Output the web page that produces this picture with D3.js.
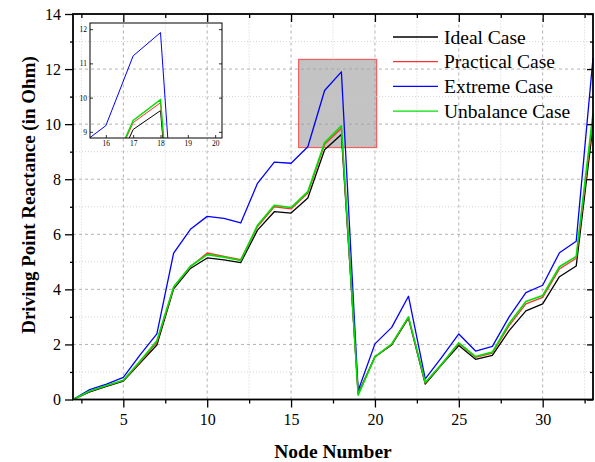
<!DOCTYPE html>
<html>
<head>
<meta charset="utf-8">
<script src="https://cdn.jsdelivr.net/npm/d3@7"></script>
<style>
  body { margin: 0; background: #fff; }
  svg text { font-family: "Liberation Serif", "Times New Roman", serif; fill: #000; }
</style>
</head>
<body>
<div id="chart"></div>
<script>
// node numbers along the feeder
const nodes = [2, 3, 4, 5, 6, 7, 8, 9, 10, 11, 12, 13, 14, 15, 16, 17, 18, 19, 20, 21, 22, 23, 24, 25, 26, 27, 28, 29, 30, 31, 32, 33];

const idealCase = [0, 0.28, 0.48, 0.67, 1.32, 1.98, 4.02, 4.76, 5.14, 5.07, 4.97, 6.15, 6.82, 6.77, 7.32, 9.07, 9.62,
  0.22, 1.55, 1.98, 2.95, 0.56, 1.28, 1.96, 1.46, 1.60, 2.50, 3.22, 3.47, 4.46, 4.85, 9.95];
const practicalCase = [0, 0.30, 0.50, 0.69, 1.36, 2.08, 4.07, 4.82, 5.32, 5.20, 5.08, 6.28, 7.00, 6.92, 7.50, 9.27, 9.85,
  0.20, 1.55, 2.00, 2.98, 0.60, 1.30, 2.03, 1.53, 1.68, 2.68, 3.47, 3.71, 4.74, 5.13, 10.2];
const extremeCase = [0, 0.36, 0.56, 0.80, 1.62, 2.38, 5.32, 6.18, 6.65, 6.58, 6.41, 7.85, 8.62, 8.58, 9.18, 11.22, 11.90,
  0.32, 2.02, 2.62, 3.75, 0.75, 1.55, 2.38, 1.76, 1.93, 3.00, 3.88, 4.15, 5.33, 5.75, 12.4];
const unbalanceCase = [0, 0.31, 0.51, 0.70, 1.40, 2.13, 4.09, 4.84, 5.26, 5.17, 5.05, 6.33, 7.05, 6.97, 7.55, 9.33, 9.94,
  0.16, 1.55, 2.02, 3.00, 0.62, 1.30, 2.06, 1.56, 1.72, 2.76, 3.56, 3.78, 4.82, 5.20, 10.4];

const seriesNames = ["Ideal Case", "Practical Case", "Extreme Case", "Unbalance Case"];
const seriesColors = ["#000000", "#ff3030", "#0000ff", "#00e000"];
const seriesValues = [idealCase, practicalCase, extremeCase, unbalanceCase];

const xMajorTicks = [5, 10, 15, 20, 25, 30];
const xMinorTicks = [2.5, 7.5, 12.5, 17.5, 22.5, 27.5, 32.5];
const yMajorTicks = [0, 2, 4, 6, 8, 10, 12, 14];
const yMinorTicks = [1, 3, 5, 7, 9, 11, 13];

// zoomed region shown by the grey box and the inset
const zoomX = [15.45, 20.1];
const zoomY = [9.15, 12.35];
const insetXTicks = [16, 17, 18, 19, 20];
const insetYTicks = [9, 10, 11, 12];

const width = 595, height = 462;
const margin = {left: 73, right: 2, top: 14, bottom: 62.5};

const svg = d3.select("#chart").append("svg")
  .attr("width", width)
  .attr("height", height);

const x = d3.scaleLinear().domain([2, 33]).range([margin.left, width - margin.right]);
const y = d3.scaleLinear().domain([0, 14]).range([height - margin.bottom, margin.top]);

const x0 = margin.left, x1 = width - margin.right;
const y0 = height - margin.bottom, y1 = margin.top;

// highlight box
svg.append("rect")
  .attr("x", x(zoomX[0]))
  .attr("y", y(zoomY[1]))
  .attr("width", x(zoomX[1]) - x(zoomX[0]))
  .attr("height", y(zoomY[0]) - y(zoomY[1]))
  .attr("fill", "#c3c3c3")
  .attr("stroke", "#f06060")
  .attr("stroke-width", 1.2);

// grid
const grid = svg.append("g");
grid.selectAll(".vmaj").data(xMajorTicks).enter().append("line")
  .attr("x1", d => x(d)).attr("x2", d => x(d)).attr("y1", y0).attr("y2", y1)
  .attr("stroke", "#a0a0a0").attr("stroke-width", 0.8).attr("stroke-dasharray", "3,3");
grid.selectAll(".vmin").data(xMinorTicks.filter(d => d < 33)).enter().append("line")
  .attr("x1", d => x(d)).attr("x2", d => x(d)).attr("y1", y0).attr("y2", y1)
  .attr("stroke", "#c8c8c8").attr("stroke-width", 0.8).attr("stroke-dasharray", "1,2");
grid.selectAll(".hmaj").data(yMajorTicks.slice(1, -1)).enter().append("line")
  .attr("x1", x0).attr("x2", x1).attr("y1", d => y(d)).attr("y2", d => y(d))
  .attr("stroke", "#a0a0a0").attr("stroke-width", 0.8).attr("stroke-dasharray", "3,3");
grid.selectAll(".hmin").data(yMinorTicks).enter().append("line")
  .attr("x1", x0).attr("x2", x1).attr("y1", d => y(d)).attr("y2", d => y(d))
  .attr("stroke", "#c8c8c8").attr("stroke-width", 0.8).attr("stroke-dasharray", "1,2");

// series lines
const line = d3.line()
  .x((d, i) => x(nodes[i]))
  .y(d => y(d));

seriesValues.forEach((vals, k) => {
  svg.append("path")
    .datum(vals)
    .attr("fill", "none")
    .attr("stroke", seriesColors[k])
    .attr("stroke-width", k === 3 ? 1.6 : 1.3)
    .attr("stroke-linejoin", "round")
    .attr("d", line);
});

// axes
const fontSize = 16;
svg.append("g")
  .attr("transform", `translate(0,${y0})`)
  .call(d3.axisBottom(x).tickValues(xMajorTicks).tickSize(8).tickPadding(6).tickFormat(d3.format("d")))
  .call(g => g.select(".domain").remove())
  .call(g => g.selectAll("text").style("font-size", fontSize + "px").style("font-family", "Liberation Serif"));
svg.append("g")
  .attr("transform", `translate(0,${y0})`)
  .call(d3.axisBottom(x).tickValues(xMinorTicks).tickSize(4).tickFormat(""))
  .call(g => g.select(".domain").remove());
svg.append("g")
  .attr("transform", `translate(0,${y1})`)
  .call(d3.axisBottom(x).tickValues(xMajorTicks).tickSize(8).tickFormat(""))
  .call(g => g.select(".domain").remove());
svg.append("g")
  .attr("transform", `translate(0,${y1})`)
  .call(d3.axisBottom(x).tickValues(xMinorTicks).tickSize(4).tickFormat(""))
  .call(g => g.select(".domain").remove());

svg.append("g")
  .attr("transform", `translate(${x0},0)`)
  .call(d3.axisLeft(y).tickValues(yMajorTicks).tickSize(8).tickPadding(4).tickFormat(d3.format("d")))
  .call(g => g.select(".domain").remove())
  .call(g => g.selectAll("text").style("font-size", fontSize + "px").style("font-family", "Liberation Serif"));
svg.append("g")
  .attr("transform", `translate(${x0},0)`)
  .call(d3.axisLeft(y).tickValues(yMinorTicks).tickSize(3).tickFormat(""))
  .call(g => g.select(".domain").remove());
svg.append("g")
  .attr("transform", `translate(${x1},0)`)
  .call(d3.axisLeft(y).tickValues(yMajorTicks).tickSize(6).tickFormat(""))
  .call(g => g.select(".domain").remove());
svg.append("g")
  .attr("transform", `translate(${x1},0)`)
  .call(d3.axisLeft(y).tickValues(yMinorTicks).tickSize(3).tickFormat(""))
  .call(g => g.select(".domain").remove());

svg.selectAll(".tick line").attr("stroke", "#000").attr("stroke-width", 1.3);

// frame
svg.append("rect")
  .attr("x", x0).attr("y", y1)
  .attr("width", x1 - x0).attr("height", y0 - y1)
  .attr("fill", "none")
  .attr("stroke", "#000")
  .attr("stroke-width", 1.8);

// inset
const ix = d3.scaleLinear().domain([15.42, 20.25]).range([90, 222]);
const iy = d3.scaleLinear().domain([8.82, 12.18]).range([138, 23]);

svg.append("clipPath").attr("id", "insetClip")
  .append("rect")
  .attr("x", 90).attr("y", 23).attr("width", 132).attr("height", 115);

const insetLine = d3.line()
  .x((d, i) => ix(nodes[i]))
  .y(d => iy(d));

const inset = svg.append("g");
const insetLines = inset.append("g").attr("clip-path", "url(#insetClip)");
seriesValues.forEach((vals, k) => {
  insetLines.append("path")
    .datum(vals)
    .attr("fill", "none")
    .attr("stroke", seriesColors[k])
    .attr("stroke-width", k === 3 ? 1.4 : 1)
    .attr("d", insetLine);
});

inset.append("g")
  .attr("transform", "translate(0,138)")
  .call(d3.axisBottom(ix).tickValues(insetXTicks).tickSize(-3).tickPadding(3).tickFormat(d3.format("d")))
  .call(g => g.select(".domain").remove())
  .call(g => g.selectAll("text").style("font-size", "7.5px"));
inset.append("g")
  .attr("transform", "translate(90,0)")
  .call(d3.axisLeft(iy).tickValues(insetYTicks).tickSize(-3).tickPadding(3).tickFormat(d3.format("d")))
  .call(g => g.select(".domain").remove())
  .call(g => g.selectAll("text").style("font-size", "7.5px"));
inset.append("g")
  .attr("transform", "translate(222,0)")
  .call(d3.axisLeft(iy).tickValues(insetYTicks).tickSize(3).tickFormat(""))
  .call(g => g.select(".domain").remove());
inset.selectAll(".tick line").attr("stroke", "#000").attr("stroke-width", 0.8);

inset.append("rect")
  .attr("x", 90).attr("y", 23).attr("width", 132).attr("height", 115)
  .attr("fill", "none")
  .attr("stroke", "#000")
  .attr("stroke-width", 1);

// legend
const legend = svg.append("g");
seriesNames.forEach((name, k) => {
  const ly = 37 + k * 24.7;
  legend.append("line")
    .attr("x1", 393).attr("x2", 438)
    .attr("y1", ly).attr("y2", ly)
    .attr("stroke", seriesColors[k])
    .attr("stroke-width", 1.3);
  legend.append("text")
    .attr("x", 444).attr("y", ly + 6.5)
    .style("font-size", "19.5px")
    .text(name);
});

// axis titles
svg.append("text")
  .attr("x", 333).attr("y", 458)
  .attr("text-anchor", "middle")
  .style("font-size", "19.5px")
  .style("font-weight", "bold")
  .text("Node Number");

svg.append("text")
  .attr("transform", "translate(35,195) rotate(-90)")
  .attr("text-anchor", "middle")
  .style("font-size", "19px")
  .style("font-weight", "bold")
  .text("Driving Point Reactance (in Ohm)");
</script>
</body>
</html>
